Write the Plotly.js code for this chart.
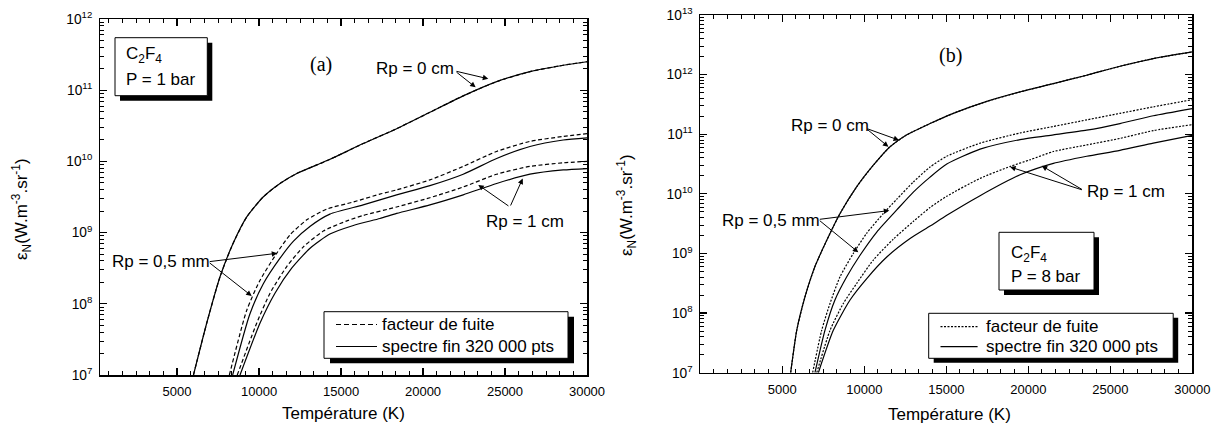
<!DOCTYPE html>
<html><head><meta charset="utf-8">
<script src="https://cdn.plot.ly/plotly-3.0.1.min.js"></script>
<style>html,body{margin:0;padding:0;background:#fff}#chart{width:1221px;height:427px}</style>
</head><body><div id="chart"></div>
<script>
// ---------- Data ----------
// Panel (a) : C2F4, P = 1 bar
const xTicks = [5000, 10000, 15000, 20000, 25000, 30000];

const a_rp0_T   = [6000, 6810, 7620, 8420, 9250, 10250, 11280, 12300, 13720, 14330, 16350, 18390, 20420, 22450, 24490, 26520, 28550, 30000];
const a_rp0_E   = [1.0e7, 5.37e7, 2.40e8, 7.08e8, 1.66e9, 3.16e9, 4.90e9, 6.76e9, 9.33e9, 1.07e10, 1.78e10, 2.88e10, 4.90e10, 8.32e10, 1.32e11, 1.82e11, 2.24e11, 2.51e11];

const a_05_dash_T = [8190, 9250, 10060, 11080, 11890, 12910, 14130, 15750, 17370, 18390, 20420, 22450, 24490, 26520, 28550, 30000];
const a_05_dash_E = [1.0e7, 8.13e7, 2.14e8, 5.13e8, 9.33e8, 1.51e9, 2.14e9, 2.69e9, 3.47e9, 3.98e9, 5.50e9, 8.51e9, 1.38e10, 1.91e10, 2.24e10, 2.45e10];

const a_05_sol_T = [8390, 9430, 10260, 11280, 12100, 13120, 14320, 16350, 18390, 20420, 22450, 24490, 26520, 28550, 30000];
const a_05_sol_E = [1.0e7, 7.08e7, 1.91e8, 4.37e8, 7.59e8, 1.23e9, 1.82e9, 2.45e9, 3.39e9, 4.57e9, 6.61e9, 1.10e10, 1.62e10, 2.00e10, 2.14e10];

const a_1_dash_T = [8670, 9860, 10670, 11680, 12700, 13920, 15320, 16350, 18390, 20420, 22450, 24490, 26520, 28550, 30000];
const a_1_dash_E = [1.0e7, 5.37e7, 1.41e8, 3.31e8, 6.31e8, 1.05e9, 1.45e9, 1.74e9, 2.29e9, 3.09e9, 4.37e9, 6.61e9, 8.51e9, 9.55e9, 1.0e10];

const a_1_sol_T = [8840, 10060, 10970, 11990, 13110, 14320, 15750, 17370, 18390, 20420, 22450, 24490, 26520, 28550, 30000];
const a_1_sol_E = [1.0e7, 5.37e7, 1.41e8, 3.16e8, 6.03e8, 9.55e8, 1.26e9, 1.58e9, 1.86e9, 2.45e9, 3.39e9, 4.90e9, 6.61e9, 7.59e9, 7.94e9];

// Panel (b) : C2F4, P = 8 bar
const b_rp0_T = [5510, 5880, 6380, 6990, 7710, 8520, 9540, 10550, 11570, 12590, 14010, 15430, 17470, 19500, 21530, 23560, 25590, 27620, 30000];
const b_rp0_E = [1.0e7, 5.13e7, 1.86e8, 6.03e8, 1.66e9, 4.68e9, 1.32e10, 3.02e10, 6.17e10, 9.77e10, 1.51e11, 2.24e11, 3.55e11, 5.13e11, 7.08e11, 9.77e11, 1.38e12, 1.86e12, 2.40e12];

const b_05_dash_T = [6850, 7400, 7910, 8520, 9330, 10150, 11160, 11980, 12990, 14010, 15030, 17060, 19500, 21530, 23560, 25590, 27620, 30000];
const b_05_dash_E = [1.0e7, 5.13e7, 1.45e8, 4.07e8, 1.0e9, 2.19e9, 4.68e9, 8.13e9, 1.58e10, 2.82e10, 4.27e10, 7.08e10, 1.05e11, 1.35e11, 1.74e11, 2.24e11, 2.88e11, 3.80e11];

const b_05_sol_T = [6990, 7600, 8210, 8930, 9740, 10760, 11980, 12990, 14010, 15030, 17060, 19500, 21530, 23560, 25590, 27620, 30000];
const b_05_sol_E = [1.0e7, 5.13e7, 1.66e8, 4.07e8, 9.33e8, 2.29e9, 5.37e9, 1.07e10, 1.91e10, 3.16e10, 5.62e10, 8.13e10, 9.77e10, 1.17e11, 1.51e11, 2.04e11, 2.69e11];

const b_1_dash_T = [7100, 7910, 8720, 9540, 10550, 11770, 13000, 14010, 15030, 17060, 18890, 20100, 21530, 23560, 25590, 27620, 30000];
const b_1_dash_E = [1.0e7, 5.13e7, 1.45e8, 3.16e8, 7.76e8, 1.74e9, 3.47e9, 5.89e9, 9.12e9, 1.82e10, 2.88e10, 3.72e10, 5.13e10, 6.61e10, 8.51e10, 1.15e11, 1.45e11];

const b_1_sol_T = [7200, 8110, 9130, 10150, 11370, 12790, 14010, 15030, 17060, 19500, 21530, 23560, 25590, 27620, 30000];
const b_1_sol_E = [1.0e7, 5.13e7, 1.66e8, 3.80e8, 8.71e8, 1.78e9, 2.88e9, 4.37e9, 9.33e9, 2.09e10, 3.24e10, 4.27e10, 5.37e10, 7.08e10, 9.55e10];

const legendLabels = ['facteur de fuite', 'spectre fin 320 000 pts'];

// ---------- Build ----------
const W = 1221, H = 427;
const px = v => v / W, py = v => 1 - v / H;
const FONT = 'Liberation Sans, Arial, Helvetica, sans-serif';
const dashA = '4px,2.5px', dashB = '2px,1.5px';

function tr(x, y, xa, ya, dash, name) {
  return {x: x, y: y, xaxis: xa, yaxis: ya, type: 'scatter', mode: 'lines', name: name,
    line: {color: '#000', width: 1.2, dash: dash, shape: 'spline', smoothing: 0.6}, hoverinfo: 'skip'};
}

const data = [
  tr(a_rp0_T, a_rp0_E, 'x', 'y', dashA, legendLabels[0]),
  tr(a_05_dash_T, a_05_dash_E, 'x', 'y', dashA, legendLabels[0]),
  tr(a_1_dash_T, a_1_dash_E, 'x', 'y', dashA, legendLabels[0]),
  tr(a_rp0_T, a_rp0_E, 'x', 'y', 'solid', legendLabels[1]),
  tr(a_05_sol_T, a_05_sol_E, 'x', 'y', 'solid', legendLabels[1]),
  tr(a_1_sol_T, a_1_sol_E, 'x', 'y', 'solid', legendLabels[1]),
  tr(b_rp0_T, b_rp0_E, 'x2', 'y2', dashB, legendLabels[0]),
  tr(b_05_dash_T, b_05_dash_E, 'x2', 'y2', dashB, legendLabels[0]),
  tr(b_1_dash_T, b_1_dash_E, 'x2', 'y2', dashB, legendLabels[0]),
  tr(b_rp0_T, b_rp0_E, 'x2', 'y2', 'solid', legendLabels[1]),
  tr(b_05_sol_T, b_05_sol_E, 'x2', 'y2', 'solid', legendLabels[1]),
  tr(b_1_sol_T, b_1_sol_E, 'x2', 'y2', 'solid', legendLabels[1])
];

function xax(domain, range, anchor) {
  return {domain: domain, range: range, anchor: anchor, showline: true, linecolor: '#000', linewidth: 1.5,
    mirror: 'allticks', ticks: 'inside', ticklen: 7, tickwidth: 1.2, tickcolor: '#000',
    tickmode: 'array', tickvals: xTicks, ticktext: xTicks.map(String), ticklabelstandoff: 4,
    tickfont: {family: FONT, size: 13, color: '#000'}, showgrid: false, zeroline: false,
    minor: {tickmode: 'linear', tick0: 0, dtick: 5000 / 6, ticks: 'inside', ticklen: 4, tickwidth: 1, tickcolor: '#000', showgrid: false}};
}
function yax(domain, range, anchor) {
  return {domain: domain, type: 'log', range: range, anchor: anchor, showline: true, linecolor: '#000', linewidth: 1.5,
    mirror: 'allticks', ticks: 'inside', ticklen: 7, tickwidth: 1.2, tickcolor: '#000', dtick: 1,
    exponentformat: 'power', ticklabelstandoff: 4,
    tickfont: {family: FONT, size: 11, color: '#000'}, showgrid: false, zeroline: false,
    minor: {dtick: 'D1', ticks: 'inside', ticklen: 4, tickwidth: 1, tickcolor: '#000', showgrid: false}};
}

const shapes = [];
const annotations = [];
function box(x0, y0, x1, y1, sdx, sdy) {
  shapes.push({type: 'rect', xref: 'paper', yref: 'paper', x0: px(x0 + sdx), x1: px(x1 + sdx), y0: py(y0 + sdy), y1: py(y1 + sdy),
    fillcolor: '#000', line: {width: 0}, layer: 'above'});
  shapes.push({type: 'rect', xref: 'paper', yref: 'paper', x0: px(x0), x1: px(x1), y0: py(y0), y1: py(y1),
    fillcolor: '#fff', line: {color: '#000', width: 1}, layer: 'above'});
}
function ptext(txt, x, y, xanchor, size, fam, angle) {
  annotations.push({text: txt, xref: 'paper', yref: 'paper', x: px(x), y: py(y), xanchor: xanchor, yanchor: 'middle',
    showarrow: false, textangle: angle || 0, font: {family: fam || FONT, size: size || 17, color: '#000'}});
}
function sample(x0, x1, y, dash) {
  shapes.push({type: 'line', xref: 'paper', yref: 'paper', x0: px(x0), x1: px(x1), y0: py(y), y1: py(y),
    line: {color: '#000', width: 1.2, dash: dash}, layer: 'above'});
}
function dtext(txt, xa, ya, x, y) {
  annotations.push({text: txt, xref: xa, yref: ya, x: x, y: y, showarrow: false, xanchor: 'center', yanchor: 'middle',
    font: {family: FONT, size: 17, color: '#000'}});
}
function arrow(xa, ya, tailX, tailY, headX, headY) {
  annotations.push({text: '', xref: xa, yref: ya, axref: xa, ayref: ya, x: headX, y: headY, ax: tailX, ay: tailY,
    showarrow: true, arrowhead: 2, arrowsize: 1.1, arrowwidth: 1, arrowcolor: '#000', standoff: 0, startstandoff: 0});
}

// Panel (a) decorations
box(115, 37.7, 207.3, 95.7, 5, 5);
ptext('C<sub>2</sub>F<sub>4</sub>', 124, 55, 'left');
ptext('P = 1 bar', 124, 79.5, 'left');
box(324, 311.7, 568, 358.3, 6, 5);
sample(336, 377, 324.5, '5px,3px');
sample(336, 377, 346.5, 'solid');
ptext(legendLabels[0], 379.5, 324.5, 'left');
ptext(legendLabels[1], 379.5, 346.5, 'left');
ptext('(a)', 320.6, 65, 'center', 20, 'Liberation Serif, Times New Roman, serif');
ptext('Température (K)', 343.5, 413, 'center');
ptext('ε<sub>N</sub>(W.m<sup>-3</sup>.sr<sup>-1</sup>)', 21, 209, 'center', 17, FONT, -90);

dtext('Rp = 0 cm', 'x', 'y', 19510, 11.31);
arrow('x', 'y', 21950, 11.27, 23980, 11.16);
arrow('x', 'y', 21950, 11.27, 23210, 11.04);
dtext('Rp = 1 cm', 'x', 'y', 26220, 9.153);
arrow('x', 'y', 25300, 9.36, 23370, 9.67);
arrow('x', 'y', 25300, 9.36, 26080, 9.76);
dtext('Rp = 0,5 mm', 'x', 'y', 4020, 8.59);
arrow('x', 'y', 6900, 8.59, 11110, 8.71);
arrow('x', 'y', 6900, 8.59, 9550, 8.11);

// Panel (b) decorations
box(999, 232.3, 1094, 290, 5, 5);
ptext('C<sub>2</sub>F<sub>4</sub>', 1009, 254, 'left');
ptext('P = 8 bar', 1009, 276.5, 'left');
box(928.7, 313.3, 1173.2, 358.3, 5, 4.5);
sample(940.5, 977.6, 326.7, dashB);
sample(940.5, 977.6, 346.7, 'solid');
ptext(legendLabels[0], 983.5, 326.7, 'left');
ptext(legendLabels[1], 983.5, 346.7, 'left');
ptext('(b)', 950, 55, 'center', 20, 'Liberation Serif, Times New Roman, serif');
ptext('Température (K)', 949, 414, 'center');
ptext('ε<sub>N</sub>(W.m<sup>-3</sup>.sr<sup>-1</sup>)', 626, 205, 'center', 17, FONT, -90);

dtext('Rp = 0 cm', 'x2', 'y2', 7900, 11.154);
arrow('x2', 'y2', 10100, 11.10, 12120, 10.90);
arrow('x2', 'y2', 10100, 11.10, 11470, 10.79);
dtext('Rp = 0,5 mm', 'x2', 'y2', 4300, 9.56);
arrow('x2', 'y2', 7196, 9.57, 11525, 9.72);
arrow('x2', 'y2', 7196, 9.57, 9635, 9.02);
dtext('Rp = 1 cm', 'x2', 'y2', 25950, 10.035);
arrow('x2', 'y2', 23360, 10.06, 18890, 10.45);
arrow('x2', 'y2', 23360, 10.06, 20820, 10.47);

const layout = {
  width: W, height: H, margin: {l: 0, r: 0, t: 0, b: 0}, paper_bgcolor: '#fff', plot_bgcolor: '#fff',
  showlegend: false, hovermode: false, font: {family: FONT, color: '#000'},
  xaxis: xax([px(100), px(587)], [300, 30000], 'y'),
  yaxis: yax([py(375), py(19)], [7, 12], 'x'),
  xaxis2: xax([px(700.3), px(1192.3)], [0, 30000], 'y2'),
  yaxis2: yax([py(372.7), py(15)], [7, 13], 'x2'),
  shapes: shapes, annotations: annotations
};

Plotly.newPlot('chart', data, layout, {staticPlot: true, displayModeBar: false});
</script></body></html>
